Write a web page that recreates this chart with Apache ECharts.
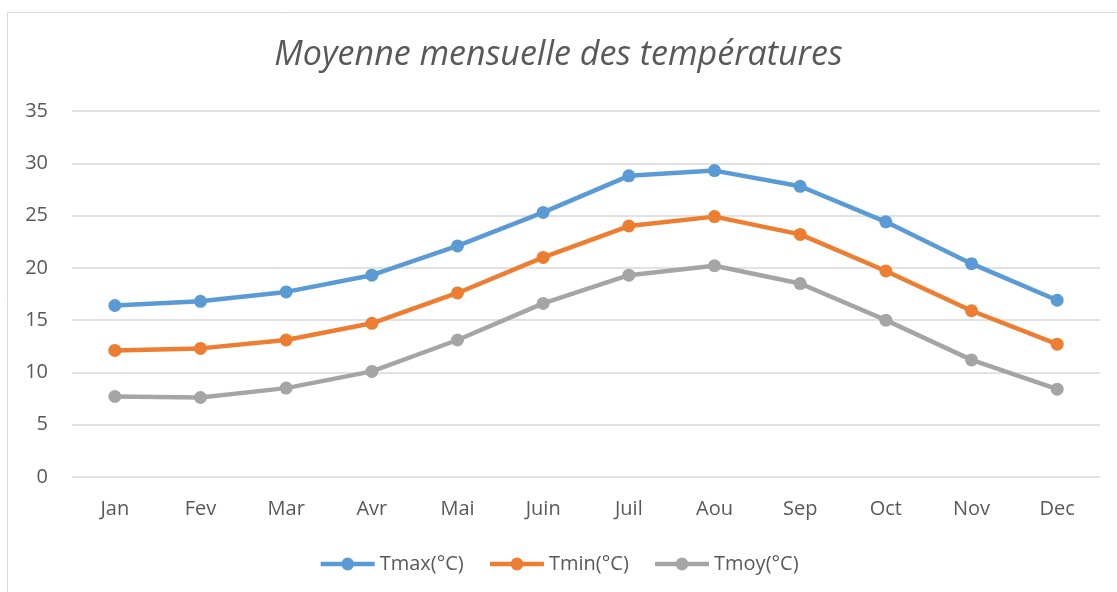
<!DOCTYPE html>
<html>
<head>
<meta charset="utf-8">
<script src="https://cdn.jsdelivr.net/npm/echarts@6/dist/echarts.min.js"></script>
<style>
  html, body { margin: 0; padding: 0; background: #fff; }
  #main { width: 1117px; height: 592px; }
</style>
</head>
<body>
<div id="main"></div>
<script>
// données
var mois = ['Jan', 'Fev', 'Mar', 'Avr', 'Mai', 'Juin', 'Juil', 'Aou', 'Sep', 'Oct', 'Nov', 'Dec'];
var tmax = [16.4, 16.8, 17.7, 19.3, 22.1, 25.3, 28.8, 29.3, 27.8, 24.4, 20.4, 16.9];
var tmin = [12.1, 12.3, 13.1, 14.7, 17.6, 21.0, 24.0, 24.9, 23.2, 19.7, 15.9, 12.7];
var tmoy = [7.7, 7.6, 8.5, 10.1, 13.1, 16.6, 19.3, 20.2, 18.5, 15.0, 11.2, 8.4];

var police = 'Open Sans, sans-serif';
var gris = '#595959';

function serie(nom, data, couleur) {
    return {
        name: nom,
        type: 'line',
        data: data,
        symbol: 'circle',
        symbolSize: 13,
        lineStyle: { width: 4.5, color: couleur },
        itemStyle: { color: couleur },
        emphasis: { disabled: true }
    };
}

var myChart = echarts.init(document.getElementById('main'));

var option = {
    animation: false,
    title: {
        text: 'Moyenne mensuelle des températures',
        left: 'center',
        top: 33,
        textStyle: { fontFamily: police, fontStyle: 'italic', fontWeight: 'normal', fontSize: 34, color: gris }
    },
    graphic: [{
        type: 'rect',
        shape: { x: 7.5, y: 12.5, width: 1120, height: 600 },
        style: { fill: null, stroke: '#d9d9d9', lineWidth: 1 },
        silent: true
    }],
    legend: {
        bottom: 13,
        left: 'center',
        itemWidth: 54,
        itemHeight: 16,
        itemGap: 24,
        lineStyle: { width: 4.5 },
        textStyle: { fontFamily: police, fontSize: 20, color: gris },
        data: ['Tmax(°C)', 'Tmin(°C)', 'Tmoy(°C)']
    },
    grid: { left: 72, right: 17, top: 111, bottom: 115, containLabel: false },
    xAxis: {
        type: 'category',
        data: mois,
        boundaryGap: true,
        axisLine: { show: false },
        axisTick: { show: false },
        axisLabel: { fontFamily: police, fontSize: 20, color: gris, margin: 22 }
    },
    yAxis: {
        type: 'value',
        min: 0,
        max: 35,
        interval: 5,
        axisLine: { show: false },
        axisTick: { show: false },
        axisLabel: { fontFamily: police, fontSize: 20, color: gris, margin: 24 },
        splitLine: { lineStyle: { color: '#d9d9d9', width: 1.5 } }
    },
    series: [
        serie('Tmax(°C)', tmax, '#5B9BD5'),
        serie('Tmin(°C)', tmin, '#ED7D31'),
        serie('Tmoy(°C)', tmoy, '#A5A5A5')
    ]
};

myChart.setOption(option);
</script>
</body>
</html>
